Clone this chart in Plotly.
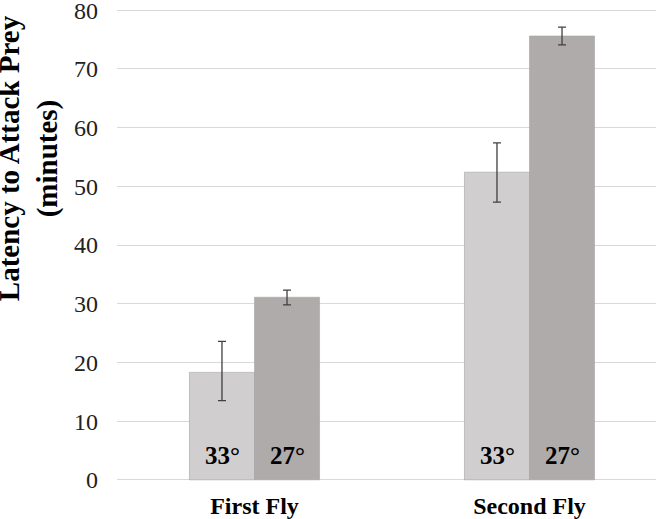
import plotly.graph_objects as go

# data
trials = ['First Fly', 'Second Fly']
temps = ['33°', '27°']
latency_33 = [18.3, 52.4]
err_up_33 = [5.3, 5.0]
err_down_33 = [4.8, 5.1]
latency_27 = [31.1, 75.6]
err_up_27 = [1.2, 1.5]
err_down_27 = [1.3, 1.5]
y_ticks = [0, 10, 20, 30, 40, 50, 60, 70, 80]

serif = 'Liberation Serif, Times New Roman, serif'
colors = {'33°': '#d0cece', '27°': '#afabab'}

fig = go.Figure()
series = [
    ('33°', latency_33, err_up_33, err_down_33),
    ('27°', latency_27, err_up_27, err_down_27),
]
for name, vals, up, down in series:
    fig.add_trace(go.Bar(
        x=trials, y=vals, name=name,
        marker_color=colors[name],
        marker_line=dict(color='#a5a2a2', width=0.6),
        error_y=dict(type='data', symmetric=False, array=up, arrayminus=down,
                     color='#404040', thickness=1.3, width=4),
    ))

# temperature labels sitting near the bottom of each bar
for i, trial in enumerate(trials):
    for j, t in enumerate(temps):
        fig.add_annotation(
            x=trial, y=4.1, text='<b>%s</b>' % t, showarrow=False,
            xshift=(-32.5 if j == 0 else 32.5),
            font=dict(family=serif, size=25, color='#000000'),
        )

# y title is placed by hand (it is not centred on the axis in the original)
fig.add_annotation(
    xref='paper', yref='paper', x=-0.165, y=0.684,
    xanchor='center', yanchor='middle', textangle=-90, showarrow=False,
    text='<b>Latency to Attack Prey<br>(minutes)</b>',
    font=dict(family=serif, size=29, color='#000000'),
)

fig.update_layout(
    width=656, height=519,
    margin=dict(l=117, r=0, t=9, b=38),
    plot_bgcolor='white', paper_bgcolor='white',
    barmode='group', bargap=0.527, bargroupgap=0,
    showlegend=False,
    font=dict(family=serif, color='#222222'),
)
fig.update_xaxes(range=[-0.5, 1.46], showgrid=False, showline=False,
                 automargin=False, ticklabelstandoff=8,
                 tickfont=dict(family=serif, size=24, color='#000000'),
                 tickvals=trials,
                 ticktext=['<b>%s</b>' % t for t in trials])
fig.update_yaxes(range=[-0.2, 80.2], tickvals=y_ticks, showgrid=True,
                 automargin=False, ticklabeloverflow='allow',
                 gridcolor='#d9d9d9', gridwidth=1.3, zeroline=True,
                 zerolinecolor='#d9d9d9', zerolinewidth=1.3,
                 ticklabelstandoff=18,
                 tickfont=dict(family=serif, size=24, color='#222222'))

# the page's default 8px body margin would push the chart off the window
fig.write_html('out.html', config={'displayModeBar': False},
               post_script="document.body.style.margin='0px';")
